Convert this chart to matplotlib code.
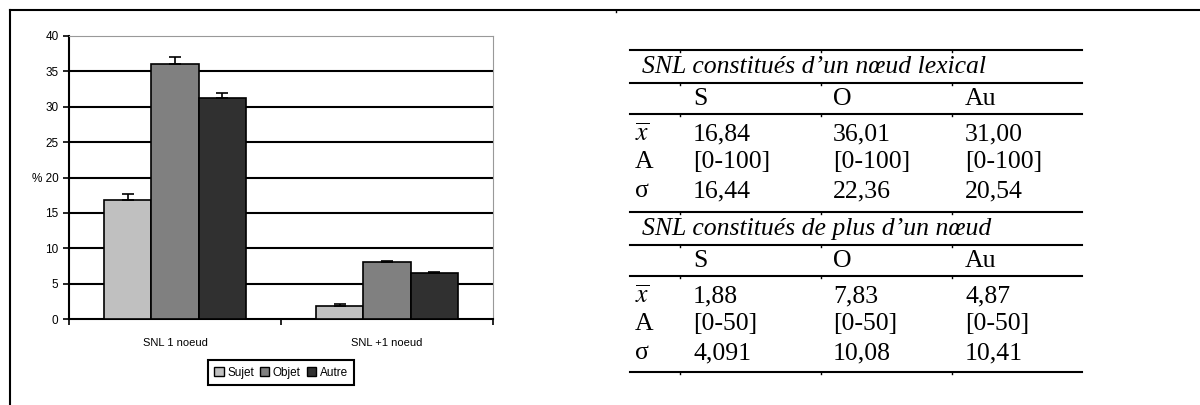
import numpy as np
import matplotlib
matplotlib.use('Agg')
import matplotlib.pyplot as plt
from matplotlib.lines import Line2D

plt.rcParams['mathtext.fontset'] = 'stix'

# chart data
categories = ['SNL 1 noeud', 'SNL +1 noeud']
series = ['Sujet', 'Objet', 'Autre']
colors = ['#c0c0c0', '#808080', '#303030']
values = [[16.8, 1.9], [36.0, 8.0], [31.2, 6.5]]
errors = [[0.9, 0.2], [1.0, 0.2], [0.7, 0.2]]
yticks = [0, 5, 10, 15, 20, 25, 30, 35, 40]

# table data
cols = ['S', 'O', 'Au']
rows = [r'$\overline{x}$', 'A', 'σ']
title1 = 'SNL constitués d\u2019un nœud lexical'
table1 = [['16,84', '36,01', '31,00'],
          ['[0-100]', '[0-100]', '[0-100]'],
          ['16,44', '22,36', '20,54']]
title2 = 'SNL constitués de plus d\u2019un nœud'
table2 = [['1,88', '7,83', '4,87'],
          ['[0-50]', '[0-50]', '[0-50]'],
          ['4,091', '10,08', '10,41']]

W, H = 1200, 405
fig = plt.figure(figsize=(12, 4.05), dpi=100)

# bar chart
ax = fig.add_axes([69/W, 1-319/H, 424/W, 283/H])
x = np.arange(len(categories))
bw = 0.222
for i, s in enumerate(series):
    ax.bar(x + (i-1)*bw, values[i], bw, color=colors[i], edgecolor='black',
           linewidth=1.2, label=s, zorder=3)
    ax.errorbar(x + (i-1)*bw, values[i],
                yerr=[np.zeros(len(categories)), errors[i]],
                fmt='none', ecolor='black', elinewidth=1.2, capsize=4,
                capthick=1.2, zorder=4)
ax.set_xlim(-0.5, 1.5)
ax.set_ylim(0, 40)
ax.set_yticks(yticks)
ax.set_yticklabels(['% 20' if t == 20 else str(t) for t in yticks],
                   fontfamily='Liberation Sans', fontsize=8.5)
ax.set_xticks([-0.5, 0.5, 1.5])
ax.set_xticklabels([])
ax.set_xticks(x, minor=True)
ax.set_xticklabels(categories, minor=True, fontfamily='Liberation Sans', fontsize=8)
ax.tick_params(axis='x', which='minor', length=0, pad=14)
ax.tick_params(axis='both', which='major', direction='out', length=4, width=1.2)
for t in yticks[1:-1]:
    ax.axhline(t, color='black', linewidth=1.5, zorder=1)
ax.spines['top'].set_color('#999999')
ax.spines['right'].set_color('#999999')
ax.spines['left'].set_linewidth(1.5)
ax.spines['bottom'].set_linewidth(1.5)
leg = ax.legend(loc='center', bbox_to_anchor=(0.5, -0.19), ncol=3,
                fancybox=False, edgecolor='black', framealpha=1,
                prop={'family': 'Liberation Sans', 'size': 8.5},
                handlelength=0.8, handleheight=0.8, handletextpad=0.3,
                columnspacing=0.5, borderpad=0.55)
leg.get_frame().set_linewidth(1.5)
for h in leg.legend_handles:
    h.set_edgecolor('black')
    h.set_linewidth(1.0)

# overlay for frame and table
ov = fig.add_axes([0, 0, 1, 1], zorder=-1)
ov.set_xlim(0, W)
ov.set_ylim(H, 0)
ov.axis('off')
ov.add_line(Line2D([10, W], [10, 10], color='black', linewidth=1.5))
ov.add_line(Line2D([10, 10], [10, H], color='black', linewidth=1.5))
ov.add_line(Line2D([616, 616], [10, 12], color='black', linewidth=1))

fs = 18.5
col_x = [693, 833, 965]
sep_x = [680, 821, 952]


def hline(y):
    ov.add_line(Line2D([630, 1082], [y, y], color='black', linewidth=1.5))
    for sx in sep_x:
        ov.add_line(Line2D([sx, sx], [y, y+2], color='black', linewidth=1))


def block(y0, title, data):
    hline(y0)
    ov.text(642, y0+17, title, fontfamily='Liberation Serif', style='italic',
            fontsize=fs, va='center', ha='left')
    hline(y0+33)
    for c, cx in zip(cols, col_x):
        ov.text(cx, y0+49, c, fontfamily='Liberation Serif', fontsize=fs,
                va='center', ha='left')
    hline(y0+64)
    for r, (lab, vals) in enumerate(zip(rows, data)):
        yy = y0 + 84 + r*28.5
        ov.text(635, yy, lab, fontfamily='Liberation Serif', fontsize=fs,
                va='center', ha='left')
        for v, cx in zip(vals, col_x):
            ov.text(cx, yy, v, fontfamily='Liberation Serif', fontsize=fs,
                    va='center', ha='left')


block(50, title1, table1)
block(212, title2, table2)
hline(372)

fig.savefig('out.png', dpi=100)
